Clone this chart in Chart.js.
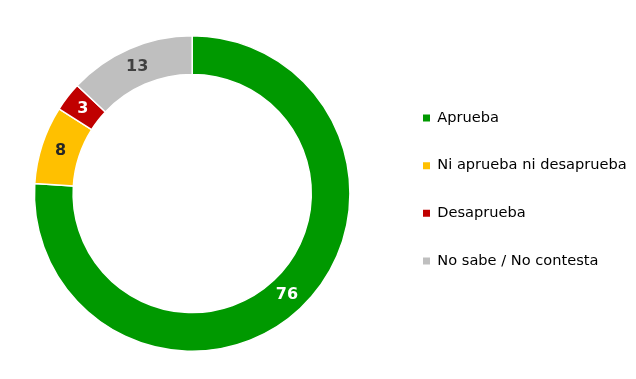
<!DOCTYPE html>
<html>
<head>
<meta charset="utf-8">
<script src="https://cdn.jsdelivr.net/npm/chart.js@4"></script>
<style>
  html, body { margin: 0; padding: 0; background: #ffffff; }
  #wrap { width: 636px; height: 379px; position: relative; }
</style>
</head>
<body>
<div id="wrap"><canvas id="c" width="636" height="379"></canvas></div>
<script>
const categories = ["Aprueba", "Ni aprueba ni desaprueba", "Desaprueba", "No sabe / No contesta"];
const values = [76, 8, 3, 13];
const colors = ["#009900", "#FFC000", "#C00000", "#BFBFBF"];
const labelColors = ["#ffffff", "#262626", "#ffffff", "#404040"];

const legendPad = 33;
const legendBoxX = 423;

const valueLabels = {
  id: 'valueLabels',
  afterDatasetsDraw(chart) {
    const ctx = chart.ctx;
    const meta = chart.getDatasetMeta(0);
    ctx.save();
    ctx.font = "bold 16px 'DejaVu Sans'";
    ctx.textAlign = 'center';
    ctx.textBaseline = 'middle';
    meta.data.forEach((arc, i) => {
      const p = arc.tooltipPosition();
      ctx.fillStyle = labelColors[i];
      ctx.fillText(String(values[i]), p.x, p.y);
    });
    ctx.restore();
  }
};

// small nudge of the legend block only (chart area untouched)
const legendNudge = {
  id: 'legendNudge',
  afterLayout(chart) {
    const lg = chart.legend;
    if (lg) {
      const dx = (legendBoxX - legendPad) - lg.left;
      lg.left += dx; lg.right += dx;
      lg.top -= 4; lg.bottom -= 4;
    }
  }
};

new Chart(document.getElementById('c'), {
  type: 'doughnut',
  data: {
    labels: categories,
    datasets: [{
      data: values,
      backgroundColor: colors,
      borderColor: '#ffffff',
      borderWidth: 1.5,
      hoverOffset: 0
    }]
  },
  options: {
    responsive: false,
    animation: false,
    cutout: '75.5%',
    rotation: 0,
    layout: { padding: { left: 0, right: 5, top: 35, bottom: 27 } },
    plugins: {
      tooltip: { enabled: false },
      legend: {
        position: 'right',
        align: 'center',
        labels: {
          boxWidth: 7,
          boxHeight: 7,
          padding: legendPad,
          color: '#000000',
          font: { family: "'DejaVu Sans'", size: 14.6 },
          generateLabels(chart) {
            const items = Chart.overrides.doughnut.plugins.legend.labels.generateLabels(chart);
            items.forEach(it => { it.lineWidth = 0; it.strokeStyle = 'rgba(0,0,0,0)'; });
            return items;
          }
        }
      }
    }
  },
  plugins: [valueLabels, legendNudge]
});
</script>
</body>
</html>
